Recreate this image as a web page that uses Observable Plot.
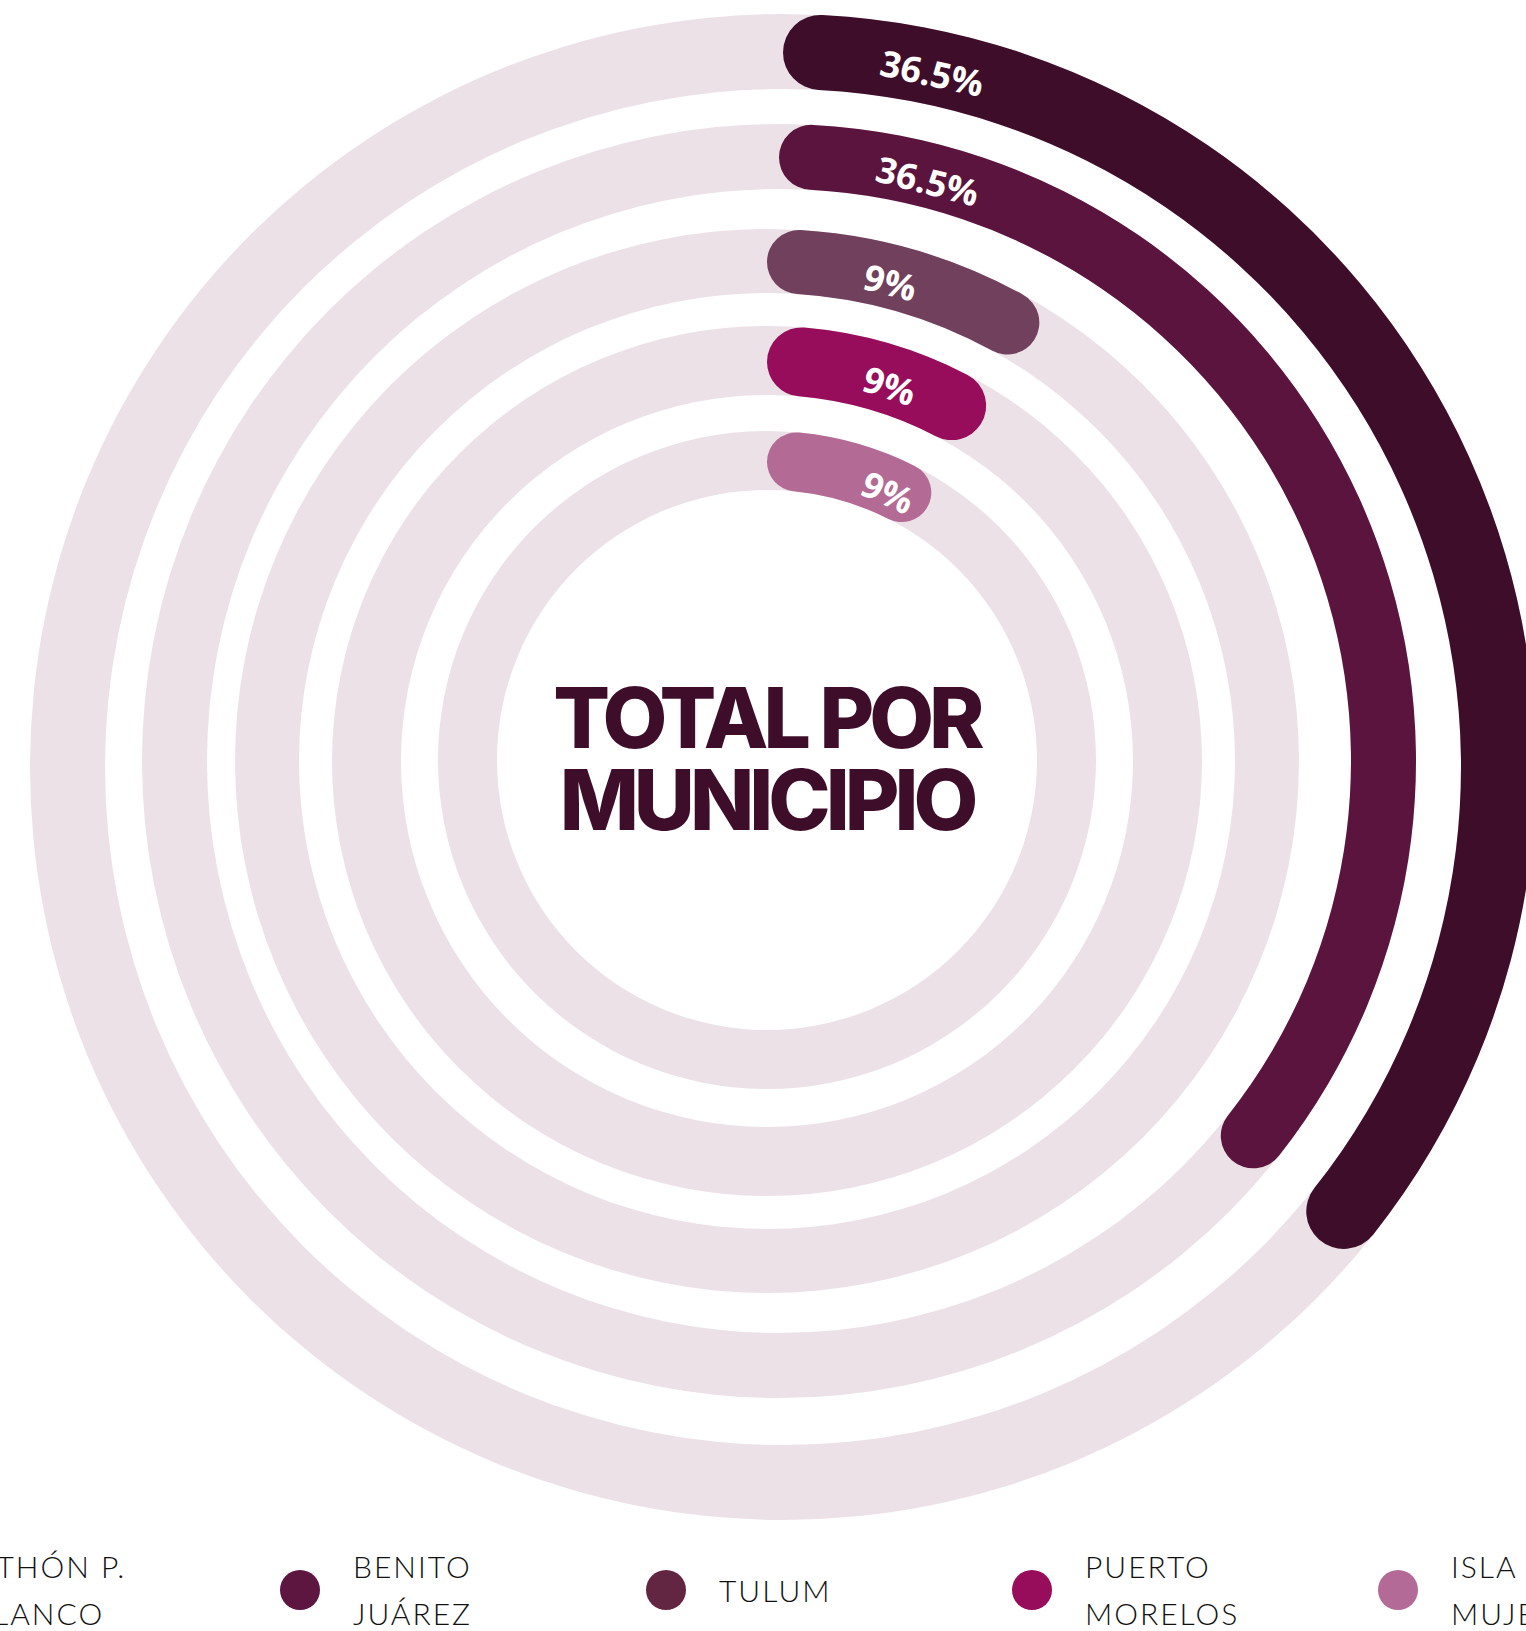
<!DOCTYPE html>
<html>
<head>
<meta charset="utf-8">
<script src="https://cdn.jsdelivr.net/npm/d3@7"></script>
<script src="https://cdn.jsdelivr.net/npm/@observablehq/plot@0.6"></script>
<style>
  html, body { margin: 0; padding: 0; background: #fff; overflow: hidden; width: 1526px; height: 1631px; }
  #chart svg { display: block; }
  #legend { display: flex; align-items: center; height: 94px; margin-left: -101px; width: 2200px; }
  .item { flex: 0 0 366px; display: flex; align-items: center; }
  .item:first-child { flex-basis: 381px; }
  .dot { width: 40px; height: 40px; border-radius: 50%; flex: 0 0 40px; }
  .lab { margin-left: 33px; font-family: Lato, sans-serif; font-weight: 300; font-size: 30px; line-height: 47px; letter-spacing: 2px; max-width: 180px; color: #111; }
</style>
</head>
<body>
<div id="chart"></div>
<div id="legend"></div>
<script>
// ---- data ----
const names = ["OTHÓN P. BLANCO", "BENITO JUÁREZ", "TULUM", "PUERTO MORELOS", "ISLA MUJERES"];
const values = [36.5, 36.5, 9, 9, 9];
const labels = ["36.5%", "36.5%", "9%", "9%", "9%"];
const title = "TOTAL POR\nMUNICIPIO";

// ---- styles ----
const barColors = ["#3e0d29", "#5a143d", "#71405d", "#970c5b", "#b36a95"];
const legendColors = ["#3e0d29", "#5c1640", "#622642", "#970c5b", "#b46a96"];
const trackColor = "#ece1e7";

// ---- layout ----
const W = 1526, H = 1543;
const ringCx = [783, 779, 767, 767, 767];
const ringCy = [767, 761, 761, 761, 760];
const ringBands = [[678, 753], [572, 637], [468, 532], [366, 435], [270, 329]]; // [inner, outer] radius of each ring
const labelGap = 98;
const labelSize = 36;

const data = names.map((name, i) => ({name, value: values[i], label: labels[i], i}));

// Plot scales: value -> angle, municipality -> ring band, municipality -> colour
const angle = Plot.scale({x: {domain: [0, 100], range: [0, 2 * Math.PI]}});
let ringOf;
try {
  const s = Plot.scale({y: {type: "ordinal", domain: names, range: ringBands}});
  const test = s.apply(names[0]);
  if (!Array.isArray(test)) throw new Error("bad");
  ringOf = n => s.apply(n);
} catch (e) {
  const p = Plot.scale({y: {type: "point", domain: names, range: [715, 300], padding: 0}});
  ringOf = n => [p.apply(n) - 33.5, p.apply(n) + 33.5];
}
const color = Plot.scale({color: {type: "ordinal", domain: names, range: barColors}});

const measure = document.createElement("canvas").getContext("2d");
measure.font = `700 ${labelSize}px 'Open Sans'`;

function rings() {
  const g = d3.create("svg:g");
  for (const d of data) {
    const [ri, ro] = ringOf(d.name);
    const r = (ri + ro) / 2;
    const gg = g.append("g").attr("transform", `translate(${ringCx[d.i]},${ringCy[d.i]})`);
    const arc = d3.arc().innerRadius(ri).outerRadius(ro);
    gg.append("path")
      .attr("d", arc({startAngle: angle.apply(0), endAngle: angle.apply(100)}))
      .attr("fill", trackColor);
    gg.append("path")
      .attr("d", arc.cornerRadius((ro - ri) / 2)({startAngle: angle.apply(0), endAngle: angle.apply(d.value)}))
      .attr("fill", color.apply(d.name));
    const w = measure.measureText(d.label).width;
    const rl = r - 6;
    const th = angle.apply(0) + (labelGap + w / 2) / rl;
    gg.append("text")
      .attr("transform", `translate(${rl * Math.sin(th)},${-rl * Math.cos(th)}) rotate(${th * 180 / Math.PI})`)
      .attr("text-anchor", "middle")
      .attr("dy", "0.36em")
      .attr("fill", "#fff")
      .attr("font-family", "'Open Sans', sans-serif")
      .attr("font-weight", 700)
      .attr("font-size", labelSize)
      .text(d.label);
  }
  return g.node();
}

const chart = Plot.plot({
  width: W,
  height: H,
  margin: 0,
  style: {background: "#fff", overflow: "visible"},
  marks: [
    rings,
    Plot.text([title], {
      text: d => d,
      frameAnchor: "middle",
      dx: 3,
      dy: -9,
      fontSize: 84,
      fontWeight: 800,
      fontFamily: "Inter, sans-serif",
      fill: "#3e0d29",
      lineHeight: 0.976
    })
  ]
});
d3.select(chart).selectAll("text").filter(function() { return this.textContent.startsWith("TOTAL"); })
  .style("letter-spacing", "-5px");
document.getElementById("chart").append(chart);

// ---- legend ----
const legend = d3.select("#legend");
names.forEach((n, i) => {
  const item = legend.append("div").attr("class", "item");
  item.append("div").attr("class", "dot").style("background", legendColors[i]);
  item.append("div").attr("class", "lab").text(n);
});
</script>
</body>
</html>
